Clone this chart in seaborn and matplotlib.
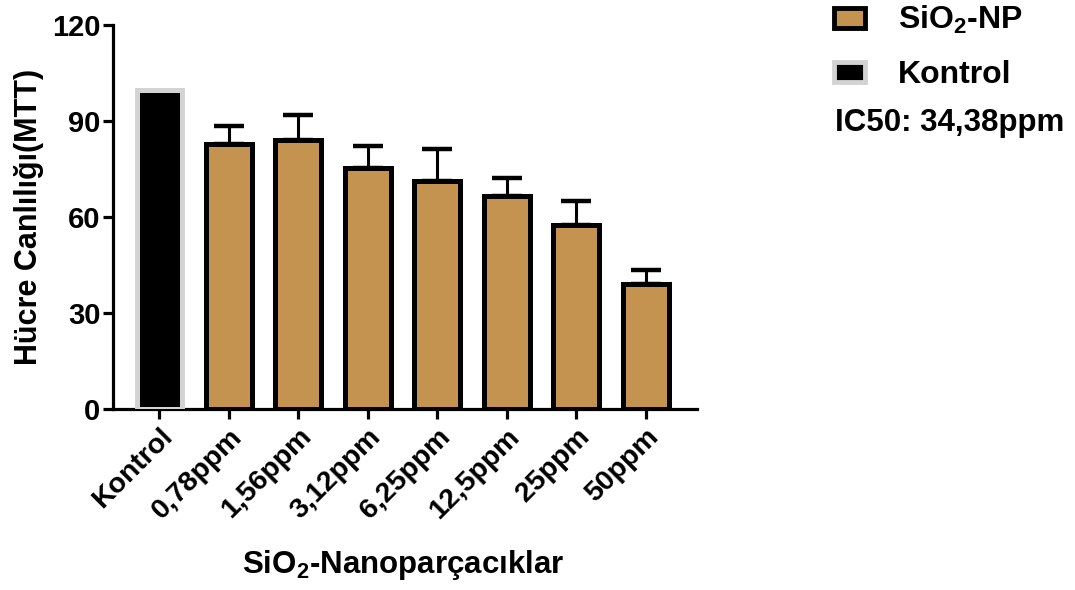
import matplotlib
matplotlib.use("Agg")
import matplotlib.pyplot as plt
import seaborn as sns
import numpy as np
from matplotlib.patches import Patch

# Valeurs
gruplar = ["Kontrol", "0,78ppm", "1,56ppm", "3,12ppm", "6,25ppm", "12,5ppm", "25ppm", "50ppm"]
canlilik = [99.6, 82.7, 84.0, 75.2, 71.1, 66.4, 57.6, 39.1]
sd = [0, 5.6, 7.7, 7.0, 10.0, 5.6, 7.3, 4.3]

renk_np = "#C4934F"
renk_kontrol = "black"
renk_kenar_kontrol = "#D3D3D3"

sns.set_style("ticks")
plt.rcParams['font.family'] = ['Liberation Sans', 'DejaVu Sans']
plt.rcParams['font.weight'] = 'bold'
plt.rcParams['text.color'] = 'black'
plt.rcParams['axes.labelcolor'] = 'black'
plt.rcParams['xtick.color'] = 'black'
plt.rcParams['ytick.color'] = 'black'
plt.rcParams['axes.edgecolor'] = 'black'
plt.rcParams['mathtext.fontset'] = 'custom'
plt.rcParams['mathtext.rm'] = 'Liberation Sans:bold'
plt.rcParams['mathtext.it'] = 'Liberation Sans:bold'
plt.rcParams['mathtext.bf'] = 'Liberation Sans:bold'

fig = plt.figure(figsize=(10.75, 5.9), dpi=100)
ax = fig.add_axes([0.105, 0.307, 0.543, 0.651])

renkler = [renk_kontrol] + [renk_np] * (len(gruplar) - 1)
sns.barplot(x=gruplar, y=canlilik, hue=gruplar, palette=renkler, legend=False,
            errorbar=None, width=0.66, saturation=1, ax=ax, zorder=3)

# Bordures des barres
for i, p in enumerate(ax.patches):
    p.set_linewidth(3.6)
    if i == 0:
        p.set_edgecolor(renk_kenar_kontrol)
    else:
        p.set_edgecolor("black")

# Barres d'erreur (seulement vers le haut)
x = np.arange(len(gruplar))
ax.errorbar(x[1:], canlilik[1:], yerr=[np.zeros(len(x) - 1), sd[1:]], fmt='none',
            ecolor='black', elinewidth=2.2, capsize=11, capthick=3.2, zorder=2)

ax.set_ylim(0, 120)
ax.set_yticks([0, 30, 60, 90, 120])
ax.set_xlim(-0.67, 7.73)
sns.despine(ax=ax)
for s in ['left', 'bottom']:
    ax.spines[s].set_linewidth(2.3)
ax.tick_params(axis='both', width=2.3, length=7)
ax.tick_params(axis='y', pad=2, labelsize=21)
ax.tick_params(axis='x', labelsize=20.5)
plt.setp(ax.get_xticklabels(), rotation=45, ha='right', rotation_mode='anchor', fontweight='bold')
plt.setp(ax.get_yticklabels(), fontweight='bold')

ax.set_ylabel("Hücre Canlılığı(MTT)", fontsize=22, fontweight='bold', labelpad=6)
fig.text(0.375, 0.042, "SiO$_2$-Nanoparçacıklar", fontsize=22.5, fontweight='bold',
         ha='center', va='center')

# Légende
handles = [Patch(facecolor=renk_np, edgecolor='black', linewidth=3.5),
           Patch(facecolor=renk_kontrol, edgecolor=renk_kenar_kontrol, linewidth=3.5)]
leg = fig.legend(handles, ["SiO$_2$-NP", "Kontrol"], loc='upper left',
                 bbox_to_anchor=(0.776, 0.993), frameon=False, fontsize=23,
                 borderpad=0, borderaxespad=0,
                 handlelength=0.95, handleheight=0.6, labelspacing=0.75, handletextpad=1.05)
for t in leg.get_texts():
    t.set_fontweight('bold')
fig.text(0.777, 0.792, "IC50: 34,38ppm", fontsize=22.5, fontweight='bold', va='center')

fig.savefig("out.png", dpi=100)
